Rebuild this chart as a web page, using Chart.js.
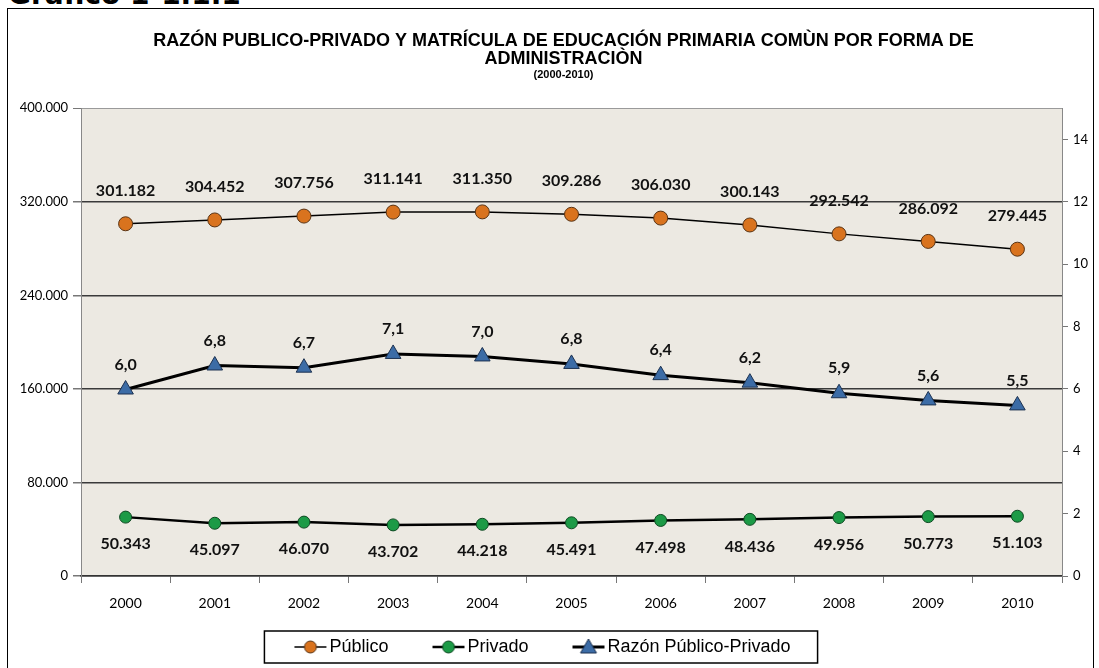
<!DOCTYPE html>
<html>
<head>
<meta charset="utf-8">
<script src="https://cdn.jsdelivr.net/npm/chart.js@4/dist/chart.umd.min.js"></script>
<style>
  body { margin: 0; background: #fff; }
  #wrap { position: relative; width: 1099px; height: 668px; overflow: hidden; }
  #frame { position: absolute; left: 7px; top: 8px; width: 1085px; height: 700px; border: 1.5px solid #000; }
  #caption { position: absolute; left: 8px; top: -19px; font: bold 28px/1 "DejaVu Sans", sans-serif; color: #000; }
  canvas { position: absolute; left: 0; top: 0; }
</style>
</head>
<body>
<div id="wrap">
  <div id="caption">Gráfico 1-1.1.1</div>
  <div id="frame"></div>
  <canvas id="lineChart" width="1099" height="668"></canvas>
</div>
<script>
// datos del gráfico
const years = ["2000", "2001", "2002", "2003", "2004", "2005", "2006", "2007", "2008", "2009", "2010"];
const publico = [301182, 304452, 307756, 311141, 311350, 309286, 306030, 300143, 292542, 286092, 279445];
const privado = [50343, 45097, 46070, 43702, 44218, 45491, 47498, 48436, 49956, 50773, 51103];
const razon = [5.98, 6.75, 6.68, 7.12, 7.04, 6.80, 6.44, 6.20, 5.86, 5.63, 5.47];
const leftTicks = [0, 80000, 160000, 240000, 320000, 400000];
const rightTicks = [0, 2, 4, 6, 8, 10, 12, 14];

const titleLines = ["RAZÓN PUBLICO-PRIVADO Y MATRÍCULA DE EDUCACIÓN PRIMARIA COMÙN POR FORMA DE", "ADMINISTRACIÒN"];
const subtitleText = "(2000-2010)";

const fmtMiles = v => Number(v).toLocaleString("de-DE");
const fmtRazon = v => v.toFixed(1).replace(".", ",");

// icono de leyenda: espacio a la izquierda + línea corta con marcador
function legendIcon(fill, stroke, style, lineW) {
  const c = document.createElement("canvas");
  c.width = 74; c.height = 20;
  const g = c.getContext("2d");
  const x0 = 40, cx = x0 + 17, cy = 10;
  g.strokeStyle = "#000";
  g.lineWidth = lineW;
  g.beginPath(); g.moveTo(x0 + 1, cy); g.lineTo(x0 + 33, cy); g.stroke();
  g.fillStyle = fill; g.strokeStyle = stroke; g.lineWidth = 1;
  g.beginPath();
  if (style === "triangle") {
    g.moveTo(cx, cy - 8); g.lineTo(cx + 8, cy + 6); g.lineTo(cx - 8, cy + 6); g.closePath();
  } else {
    g.arc(cx, cy, 6, 0, Math.PI * 2);
  }
  g.fill(); g.stroke();
  return c;
}

// fondo del área de trazado
const plotBg = {
  id: "plotBg",
  beforeDraw(chart) {
    const a = chart.chartArea, ctx = chart.ctx;
    ctx.save();
    ctx.fillStyle = "#ECE9E2";
    ctx.fillRect(a.left, a.top, a.right - a.left, a.bottom - a.top);
    ctx.restore();
  }
};

// etiquetas de datos
const dataLabels = {
  id: "dataLabels",
  afterDatasetsDraw(chart) {
    const ctx = chart.ctx;
    ctx.save();
    ctx.font = "bold 16px Lato, sans-serif";
    ctx.fillStyle = "#111";
    ctx.textAlign = "center";
    ctx.textBaseline = "middle";
    chart.data.datasets.forEach((ds, i) => {
      const meta = chart.getDatasetMeta(i);
      meta.data.forEach((pt, j) => {
        const v = ds.data[j];
        const txt = ds.yAxisID === "y1" ? fmtRazon(v) : fmtMiles(v);
        ctx.fillText(txt, pt.x, pt.y + ds.labelOffset);
      });
    });
    ctx.restore();
  }
};

// desplaza título y leyenda, y dibuja el marco de la leyenda
const boxTweaks = {
  id: "boxTweaks",
  afterLayout(chart) {
    chart.boxes.forEach(b => {
      if (b.options && b.options.position === "top") { b.left += 14; b.right += 14; }
    });
    chart.legend.left -= 24;
    chart.legend.right -= 24;
  },
  afterDraw(chart) {
    const hb = chart.legend.legendHitBoxes;
    if (!hb || !hb.length) return;
    const last = hb[hb.length - 1];
    const l = hb[0].left + 33 - 29, r = last.left + last.width + 27;
    const cy = hb[0].top + hb[0].height / 2;
    const ctx = chart.ctx;
    ctx.save();
    ctx.strokeStyle = "#000";
    ctx.lineWidth = 1.5;
    ctx.strokeRect(l, cy - 16, r - l, 32);
    ctx.restore();
  }
};

const ctx = document.getElementById("lineChart").getContext("2d");
new Chart(ctx, {
  type: "line",
  data: {
    labels: years,
    datasets: [
      {
        label: "Público",
        data: publico,
        yAxisID: "y",
        borderColor: "#000",
        borderWidth: 1.5,
        pointStyle: "circle",
        pointRadius: 7,
        pointBackgroundColor: "#D9731E",
        pointBorderColor: "#5a3414",
        pointBorderWidth: 1,
        labelOffset: -33,
        icon: legendIcon("#D9731E", "#5a3414", "circle", 1.5)
      },
      {
        label: "Privado",
        data: privado,
        yAxisID: "y",
        borderColor: "#000",
        borderWidth: 2.5,
        pointStyle: "circle",
        pointRadius: 6,
        pointBackgroundColor: "#1C9A46",
        pointBorderColor: "#0e4a22",
        pointBorderWidth: 1,
        labelOffset: 27,
        icon: legendIcon("#1C9A46", "#0e4a22", "circle", 2.5)
      },
      {
        label: "Razón Público-Privado",
        data: razon,
        yAxisID: "y1",
        borderColor: "#000",
        borderWidth: 3,
        pointStyle: "triangle",
        pointRadius: 9,
        pointBackgroundColor: "#3C6CA6",
        pointBorderColor: "#1c3150",
        pointBorderWidth: 1,
        labelOffset: -25,
        icon: legendIcon("#3C6CA6", "#1c3150", "triangle", 3)
      }
    ]
  },
  options: {
    responsive: false,
    animation: false,
    devicePixelRatio: 1,
    layout: { padding: { left: 0, right: 0, top: 10, bottom: 2 } },
    plugins: {
      title: {
        display: true,
        text: titleLines,
        color: "#000",
        font: { family: "'Liberation Sans', Arial, sans-serif", size: 18, weight: "bold", lineHeight: "18px" },
        padding: { top: 22, bottom: 0 }
      },
      subtitle: {
        display: true,
        text: subtitleText,
        color: "#000",
        font: { family: "'Liberation Sans', Arial, sans-serif", size: 11, weight: "bold" },
        padding: { top: 0, bottom: 27 }
      },
      legend: {
        position: "bottom",
        labels: {
          usePointStyle: true,
          pointStyleWidth: 60,
          padding: 10,
          color: "#000",
          font: { family: "'Liberation Sans', Arial, sans-serif", size: 18 },
          generateLabels: chart => chart.data.datasets.map((ds, i) => ({
            text: ds.label,
            pointStyle: ds.icon,
            fillStyle: "transparent",
            strokeStyle: "transparent",
            lineWidth: 0,
            hidden: false,
            datasetIndex: i
          }))
        }
      },
      tooltip: { enabled: false }
    },
    scales: {
      x: {
        offset: true,
        grid: { offset: true, drawOnChartArea: false, tickLength: 7, color: "#777" },
        border: { color: "#333", width: 1.5 },
        ticks: { color: "#000", padding: 12, font: { family: "Lato, sans-serif", size: 14 } },
        afterFit: s => { s.height = 52; }
      },
      y: {
        position: "left",
        min: 0,
        max: 400000,
        afterBuildTicks: s => { s.ticks = leftTicks.map(v => ({ value: v })); },
        grid: {
          color: c => (c.tick && c.tick.value === 400000 ? "#9a9a9a" : "#3a3a3a"),
          lineWidth: c => (c.tick && c.tick.value === 400000 ? 1 : 1.5),
          tickColor: "#777",
          tickLength: 8
        },
        border: { color: "#888", width: 1 },
        ticks: { color: "#000", padding: 5, font: { family: "Lato, sans-serif", size: 13 }, callback: v => fmtMiles(v) },
        afterFit: s => { s.width = 81; }
      },
      y1: {
        position: "right",
        min: 0,
        max: 15,
        afterBuildTicks: s => { s.ticks = rightTicks.map(v => ({ value: v })); },
        grid: { drawOnChartArea: false, tickColor: "#777", tickLength: 6 },
        border: { color: "#888", width: 1 },
        ticks: { color: "#000", padding: 5, font: { family: "Lato, sans-serif", size: 13 } },
        afterFit: s => { s.width = 37; }
      }
    }
  },
  plugins: [plotBg, dataLabels, boxTweaks]
});
</script>
</body>
</html>
